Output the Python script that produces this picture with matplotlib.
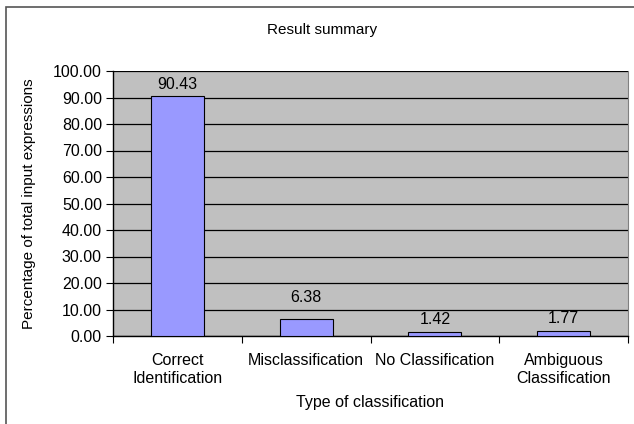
import numpy as np
import matplotlib.pyplot as plt
from matplotlib.patches import Rectangle

# Data
categories = ["Correct\nIdentification", "Misclassification", "No Classification", "Ambiguous\nClassification"]
values = [90.43, 6.38, 1.42, 1.77]
yticks = np.arange(0, 101, 10)

plt.rcParams['font.family'] = ['Liberation Sans', 'DejaVu Sans']

W, H = 634, 424
fig = plt.figure(figsize=(W / 100, H / 100), dpi=100)

# Outer chart border (left/top visible, right/bottom cut off)
fig.patches.append(Rectangle((6 / W, -1), 2, 2 - 7 / H, transform=fig.transFigure,
                             fill=False, edgecolor='#555555', linewidth=1.2))

# Plot area
left, right, top, bottom = 113, 628, 71, 336
ax = fig.add_axes([left / W, 1 - bottom / H, (right - left) / W, (bottom - top) / H])
ax.set_facecolor('#C0C0C0')

x = np.arange(len(categories))
bars = ax.bar(x, values, width=0.41, color='#9999FF', edgecolor='black', linewidth=0.8, zorder=3)
# the 6.38 label sits a bit higher in the original
label_pad = [3, 10, 4, 4]
for b, v, p in zip(bars, values, label_pad):
    ax.annotate(f"{v:.2f}", (b.get_x() + b.get_width() / 2, v), xytext=(0, p),
                textcoords='offset points', ha='center', va='bottom', fontsize=11.5)

ax.set_xlim(-0.5, len(categories) - 0.5)
ax.set_ylim(0, 100)
ax.set_yticks(yticks)
ax.set_yticklabels([f"{t:.2f}" for t in yticks], fontsize=11.5)
ax.yaxis.grid(True, color='black', linewidth=0.9)
ax.set_axisbelow(True)

# x ticks at category boundaries, labels centered on categories
ax.set_xticks(np.arange(-0.5, len(categories), 1.0))
ax.set_xticklabels([])
ax.set_xticks(x, minor=True)
ax.set_xticklabels(categories, minor=True, fontsize=11.5, linespacing=1.25)
ax.tick_params(axis='x', which='minor', length=0, pad=12)
ax.tick_params(axis='x', which='major', length=5, direction='out')
ax.tick_params(axis='y', length=5, direction='out', pad=3)

for s in ['left', 'bottom']:
    ax.spines[s].set_color('black')
    ax.spines[s].set_linewidth(1)
ax.spines['top'].set_visible(False)
ax.spines['right'].set_color('#808080')

ax.set_xlabel("Type of classification", fontsize=11.5)
ax.xaxis.set_label_coords(0.5, -(403 - 336) / 265, transform=ax.transAxes)
ax.xaxis.label.set_va('center')
ax.set_ylabel("Percentage of total input expressions", fontsize=11)
ax.yaxis.set_label_coords((29 - 113) / 515, 0.5, transform=ax.transAxes)
ax.yaxis.label.set_va('center')

fig.text(322 / W, 1 - 30 / H, "Result summary", ha='center', va='center', fontsize=11)

fig.savefig("out.png", dpi=100)
